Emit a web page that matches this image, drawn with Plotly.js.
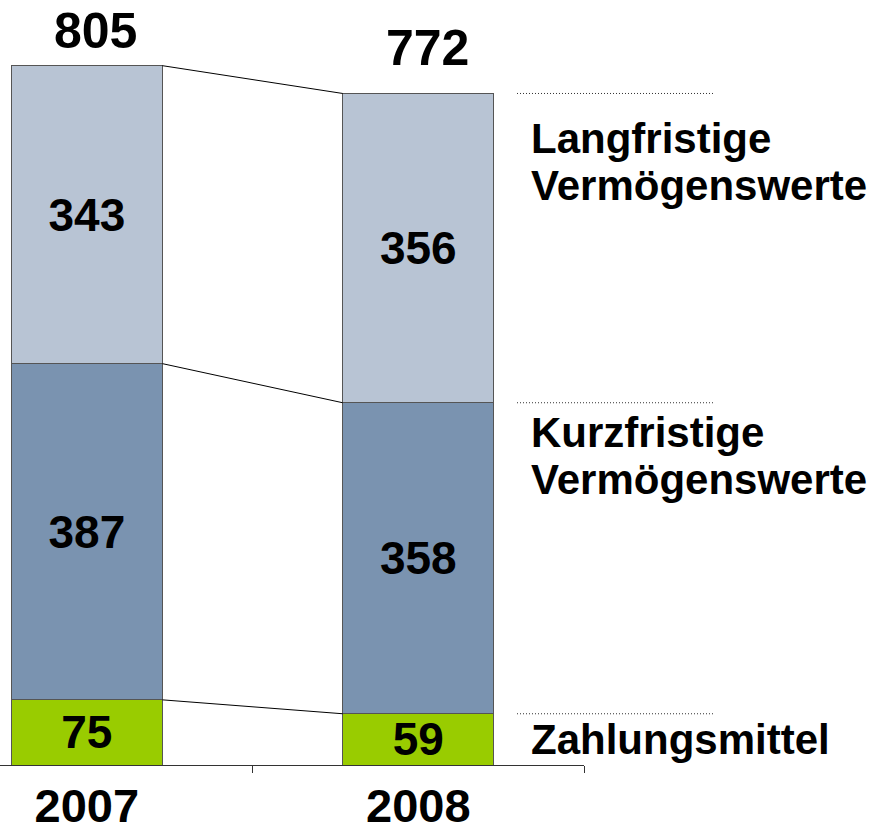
<!DOCTYPE html>
<html>
<head>
<meta charset="utf-8">
<script src="https://cdn.plot.ly/plotly-3.0.1.min.js"></script>
<style>html,body{margin:0;padding:0;background:#fff;}#chart{width:879px;height:825px;}</style>
</head>
<body>
<div id="chart"></div>
<script>
// Data
const years = ['2007', '2008'];
const xpos = [0, 1];
const zahlungsmittel = [75, 59];
const kurzfristige = [387, 358];
const langfristige = [343, 356];
const totals = [805, 772];
const seriesNames = ['Zahlungsmittel', 'Kurzfristige Vermögenswerte', 'Langfristige Vermögenswerte'];
const sideLabels = [['Langfristige', 'Vermögenswerte'], ['Kurzfristige', 'Vermögenswerte'], ['Zahlungsmittel']];

const FONT = 'Liberation Sans, Arial, sans-serif';
const barW = 0.456;
const colors = ['#99CC00', '#7A93B0', '#B8C4D4'];
const series = [zahlungsmittel, kurzfristige, langfristige];

const traces = series.map((vals, i) => ({
  type: 'bar',
  name: seriesNames[i],
  x: xpos,
  y: vals,
  width: barW,
  marker: {color: colors[i], line: {color: '#555555', width: 1}},
  text: vals.map(String),
  textposition: 'inside',
  insidetextanchor: 'middle',
  constraintext: 'none',
  textangle: 0,
  textfont: {family: FONT, size: 46, color: '#000', weight: 'bold'},
  hoverinfo: 'skip'
}));

// cumulative levels
const cum = [[], []];
for (let j = 0; j < 2; j++) {
  let s = 0;
  series.forEach(v => { s += v[j]; cum[j].push(s); });
}

// connector lines
for (let k = 0; k < 3; k++) {
  traces.push({
    type: 'scatter', mode: 'lines',
    x: [xpos[0] + barW / 2, xpos[1] - barW / 2],
    y: [cum[0][k], cum[1][k]],
    line: {color: '#000', width: 1},
    hoverinfo: 'skip', showlegend: false
  });
}

const shapes = cum[1].map(v => ({
  type: 'line', xref: 'paper', yref: 'y',
  x0: 517 / 584, x1: 715 / 584, y0: v, y1: v,
  line: {color: '#333', width: 1, dash: '1px,2px'}
}));

const annotations = [];
const totalShift = [5, 15];
totals.forEach((t, i) => {
  annotations.push({
    x: xpos[i], y: cum[i][2], xref: 'x', yref: 'y',
    text: String(t), showarrow: false, yanchor: 'bottom', yshift: totalShift[i], xshift: 9,
    font: {family: FONT, size: 50, color: '#000', weight: 'bold'}
  });
});

const labelY = [[138, 185], [432, 479], [739]];
sideLabels.forEach((lines, i) => {
  lines.forEach((ln, j) => {
    annotations.push({
      x: 529 / 584, xref: 'paper', xanchor: 'left',
      y: (765 - labelY[i][j]) / 765, yref: 'paper', yanchor: 'middle',
      text: ln, showarrow: false,
      font: {family: FONT, size: 42, color: '#000', weight: 'bold'}
    });
  });
});

const layout = {
  width: 879, height: 825,
  margin: {l: 0, r: 295, t: 0, b: 60},
  paper_bgcolor: '#fff', plot_bgcolor: '#fff',
  barmode: 'stack',
  showlegend: false,
  xaxis: {
    range: [-0.262, 1.5], showgrid: false, zeroline: false,
    showline: true, linecolor: '#333', linewidth: 1,
    tickmode: 'array', tickvals: xpos, ticktext: years, ticks: '',
    ticklabelstandoff: 0,
    minor: {tickmode: 'array', tickvals: [0.5, 1.5], ticks: 'outside', ticklen: 7, tickcolor: '#333', tickwidth: 1, showgrid: false},
    tickfont: {family: FONT, size: 47, color: '#000', weight: 'bold'},
    fixedrange: true
  },
  yaxis: {range: [0, 880.6], visible: false, fixedrange: true},
  shapes: shapes,
  annotations: annotations
};

Plotly.newPlot('chart', traces, layout, {displayModeBar: false, staticPlot: true});
</script>
</body>
</html>
